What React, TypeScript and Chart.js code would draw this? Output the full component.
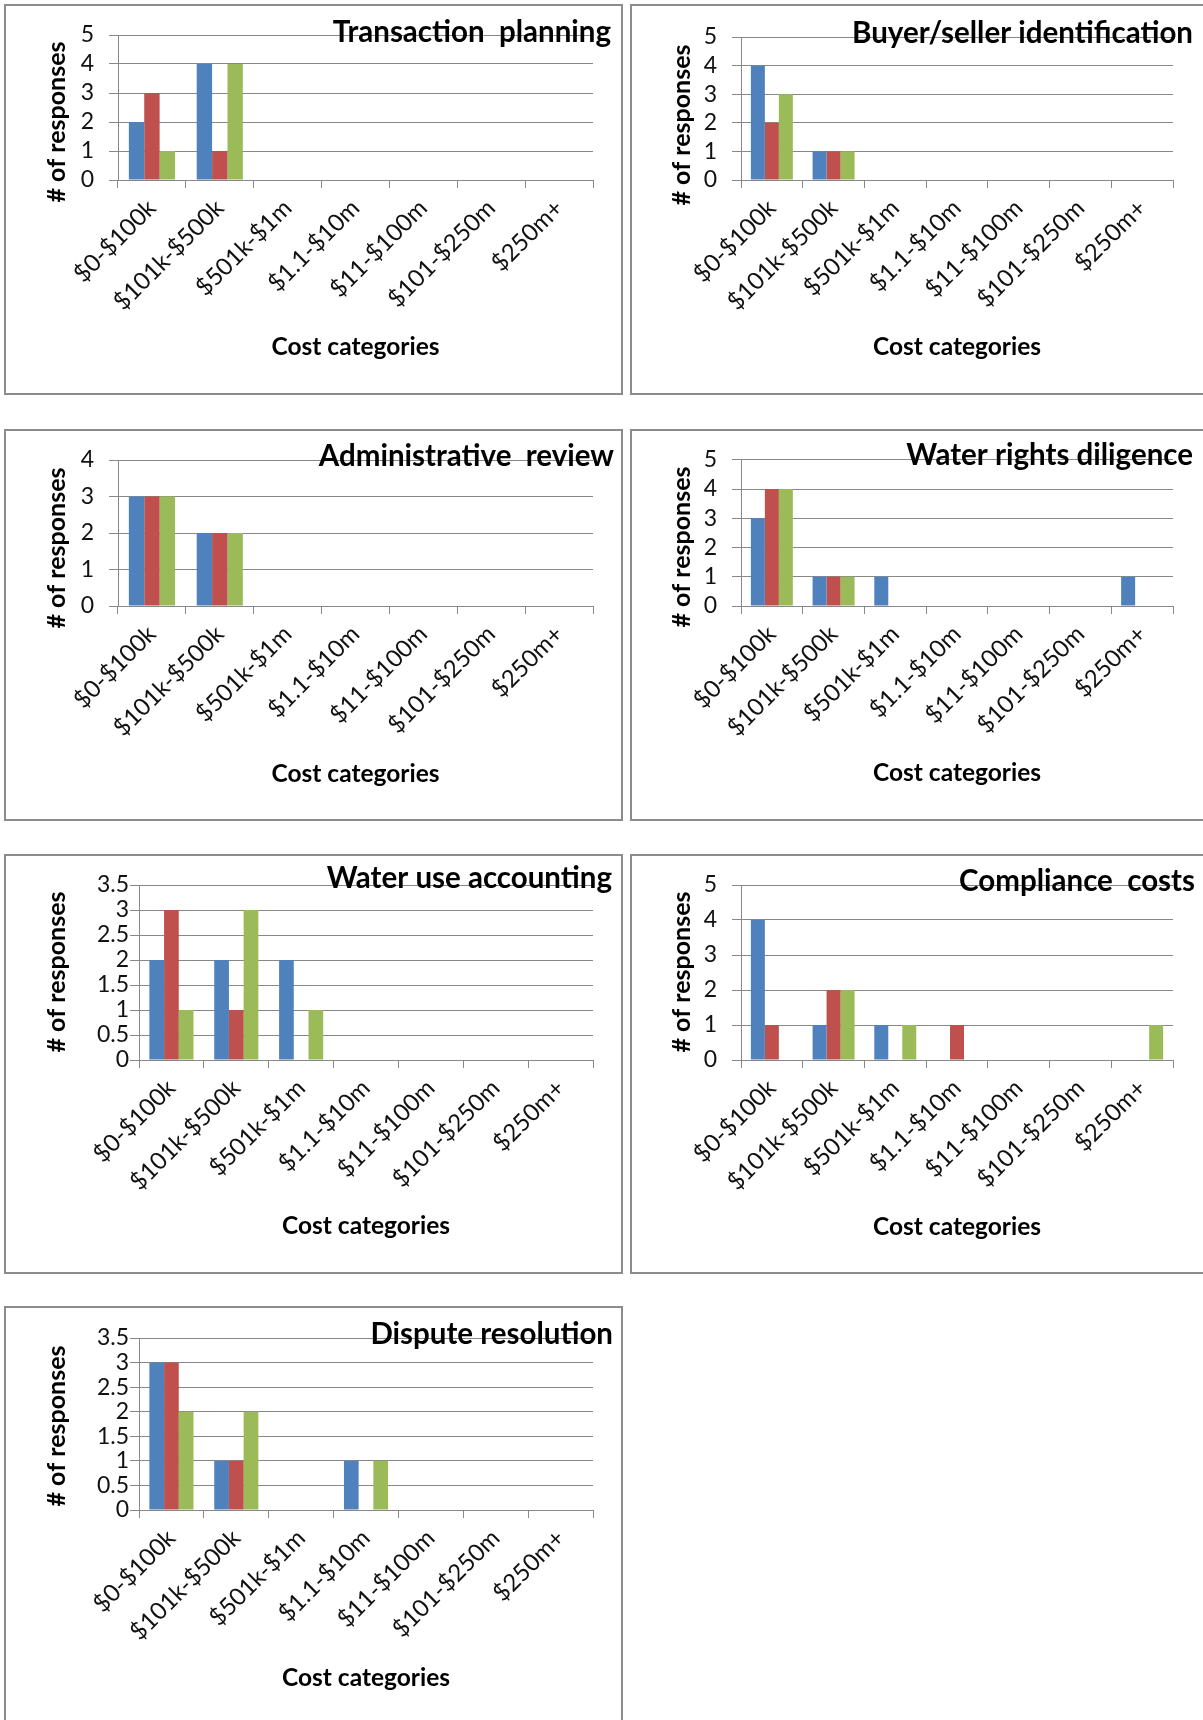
import React, { useEffect, useRef } from "react";
import { Chart, registerables } from "chart.js";

Chart.register(...registerables);

// ---------- data ----------
const categories = ["$0-$100k", "$101k-$500k", "$501k-$1m", "$1.1-$10m", "$11-$100m", "$101-$250m", "$250m+"];
const seriesNames = ["Series 1", "Series 2", "Series 3"];

const transactionBlue = [2, 4, 0, 0, 0, 0, 0];
const transactionRed = [3, 1, 0, 0, 0, 0, 0];
const transactionGreen = [1, 4, 0, 0, 0, 0, 0];

const buyerBlue = [4, 1, 0, 0, 0, 0, 0];
const buyerRed = [2, 1, 0, 0, 0, 0, 0];
const buyerGreen = [3, 1, 0, 0, 0, 0, 0];

const adminBlue = [3, 2, 0, 0, 0, 0, 0];
const adminRed = [3, 2, 0, 0, 0, 0, 0];
const adminGreen = [3, 2, 0, 0, 0, 0, 0];

const diligenceBlue = [3, 1, 1, 0, 0, 0, 1];
const diligenceRed = [4, 1, 0, 0, 0, 0, 0];
const diligenceGreen = [4, 1, 0, 0, 0, 0, 0];

const accountingBlue = [2, 2, 2, 0, 0, 0, 0];
const accountingRed = [3, 1, 0, 0, 0, 0, 0];
const accountingGreen = [1, 3, 1, 0, 0, 0, 0];

const complianceBlue = [4, 1, 1, 0, 0, 0, 0];
const complianceRed = [1, 2, 0, 1, 0, 0, 0];
const complianceGreen = [0, 2, 1, 0, 0, 0, 1];

const disputeBlue = [3, 1, 0, 1, 0, 0, 0];
const disputeRed = [3, 1, 0, 0, 0, 0, 0];
const disputeGreen = [2, 2, 0, 1, 0, 0, 0];

const yAxisTitle = "# of responses";
const xAxisTitle = "Cost categories";

// ---------- styles ----------
const COLORS = ["#4F81BD", "#C0504D", "#9BBB59"];
const GRID = "#888888";
const TEXT = "#111111";
const FONT = "Lato";

type PanelCfg = {
  title: string;
  series: number[][];
  yMax: number;
  yStep: number;
  L: number; T: number; W: number; H: number;
  border: { left: number; top: number; width: number; height: number; right: boolean; bottom: boolean };
  axisX: number; topY: number; zeroY: number; rightX: number;
  titleRight: number; titleBase: number;
  yTitleX: number; yTitleY: number;
  xTitleY: number;
  yTickPad: number;
};

const panels: PanelCfg[] = [
  {
    title: "Transaction  planning", series: [transactionBlue, transactionRed, transactionGreen], yMax: 5, yStep: 1,
    L: 6, T: 6, W: 615, H: 387, border: { left: 4, top: 4, width: 619, height: 391, right: true, bottom: true },
    axisX: 118, topY: 35, zeroY: 180, rightX: 593, titleRight: 611, titleBase: 42, yTitleX: 57, yTitleY: 122, xTitleY: 347, yTickPad: 15,
  },
  {
    title: "Buyer/seller identification", series: [buyerBlue, buyerRed, buyerGreen], yMax: 5, yStep: 1,
    L: 633, T: 6, W: 570, H: 387, border: { left: 630, top: 4, width: 600, height: 391, right: false, bottom: true },
    axisX: 741, topY: 37, zeroY: 180, rightX: 1173, titleRight: 1193, titleBase: 43, yTitleX: 682, yTitleY: 125, xTitleY: 347, yTickPad: 15,
  },
  {
    title: "Administrative  review", series: [adminBlue, adminRed, adminGreen], yMax: 4, yStep: 1,
    L: 6, T: 431, W: 615, H: 388, border: { left: 4, top: 429, width: 619, height: 392, right: true, bottom: true },
    axisX: 118, topY: 460, zeroY: 606, rightX: 593, titleRight: 614, titleBase: 466, yTitleX: 57, yTitleY: 548, xTitleY: 774, yTickPad: 15,
  },
  {
    title: "Water rights diligence", series: [diligenceBlue, diligenceRed, diligenceGreen], yMax: 5, yStep: 1,
    L: 633, T: 431, W: 570, H: 388, border: { left: 630, top: 429, width: 600, height: 392, right: false, bottom: true },
    axisX: 741, topY: 459, zeroY: 606, rightX: 1173, titleRight: 1193, titleBase: 465, yTitleX: 682, yTitleY: 547, xTitleY: 773, yTickPad: 15,
  },
  {
    title: "Water use accounting", series: [accountingBlue, accountingRed, accountingGreen], yMax: 3.5, yStep: 0.5,
    L: 6, T: 856, W: 615, H: 416, border: { left: 4, top: 854, width: 619, height: 420, right: true, bottom: true },
    axisX: 139, topY: 885, zeroY: 1060, rightX: 593, titleRight: 612, titleBase: 888, yTitleX: 57, yTitleY: 972, xTitleY: 1226, yTickPad: 1,
  },
  {
    title: "Compliance  costs", series: [complianceBlue, complianceRed, complianceGreen], yMax: 5, yStep: 1,
    L: 633, T: 856, W: 570, H: 416, border: { left: 630, top: 854, width: 600, height: 420, right: false, bottom: true },
    axisX: 741, topY: 885, zeroY: 1060, rightX: 1173, titleRight: 1195, titleBase: 891, yTitleX: 682, yTitleY: 972, xTitleY: 1227, yTickPad: 15,
  },
  {
    title: "Dispute resolution", series: [disputeBlue, disputeRed, disputeGreen], yMax: 3.5, yStep: 0.5,
    L: 6, T: 1308, W: 615, H: 412, border: { left: 4, top: 1306, width: 619, height: 440, right: true, bottom: false },
    axisX: 139, topY: 1338, zeroY: 1510, rightX: 593, titleRight: 613, titleBase: 1344, yTitleX: 57, yTitleY: 1426, xTitleY: 1678, yTickPad: 1,
  },
];

const TITLE_SIZE = 29.5;
const YTITLE_SIZE = 25;
const XTITLE_SIZE = 24.5;
const YTICK_SIZE = 23;
const XTICK_SIZE = 24;

const panelText = {
  id: "panelText",
  afterDraw(chart: any, _args: any, opts: any) {
    const ctx = chart.ctx;
    ctx.save();
    ctx.fillStyle = "#000";
    ctx.font = `bold ${TITLE_SIZE}px ${FONT}`;
    ctx.textAlign = "right";
    ctx.textBaseline = "alphabetic";
    ctx.fillText(opts.title, opts.titleX, opts.titleY);
    ctx.translate(opts.yTitleX, opts.yTitleY);
    ctx.rotate(-Math.PI / 2);
    ctx.font = `bold ${YTITLE_SIZE}px ${FONT}`;
    ctx.textAlign = "center";
    ctx.textBaseline = "middle";
    ctx.fillText(opts.yTitle, 0, 0);
    ctx.restore();
  },
};

function Panel({ cfg }: { cfg: PanelCfg }) {
  const ref = useRef<HTMLCanvasElement | null>(null);
  useEffect(() => {
    if (!ref.current) return;
    const xTitleLH = XTITLE_SIZE * 1.2;
    const xTitlePadBottom = cfg.T + cfg.H - cfg.xTitleY - xTitleLH / 2;
    const chart = new Chart(ref.current, {
      type: "bar",
      data: {
        labels: categories,
        datasets: cfg.series.map((d, i) => ({
          label: seriesNames[i],
          data: d,
          backgroundColor: COLORS[i],
          borderWidth: 0,
          categoryPercentage: 0.68,
          barPercentage: 1.0,
        })),
      },
      options: {
        animation: false,
        responsive: false,
        maintainAspectRatio: false,
        devicePixelRatio: 1,
        layout: {
          padding: { left: 0, top: cfg.topY - cfg.T, right: cfg.L + cfg.W - cfg.rightX, bottom: 0 },
        },
        plugins: {
          legend: { display: false },
          tooltip: { enabled: false },
          title: { display: false },
          panelText: {
            title: cfg.title,
            titleX: cfg.titleRight - cfg.L,
            titleY: cfg.titleBase - cfg.T,
            yTitle: yAxisTitle,
            yTitleX: cfg.yTitleX - cfg.L,
            yTitleY: cfg.yTitleY - cfg.T,
          },
        } as any,
        scales: {
          x: {
            type: "category",
            offset: true,
            grid: { offset: true, drawOnChartArea: false, drawTicks: true, tickLength: 8, color: GRID, lineWidth: 1 },
            border: { display: true, color: GRID, width: 1 },
            ticks: {
              autoSkip: false,
              minRotation: 45,
              maxRotation: 45,
              padding: 6,
              color: TEXT,
              font: { family: FONT, size: XTICK_SIZE },
            },
            title: {
              display: true,
              text: xAxisTitle,
              color: "#000",
              font: { family: FONT, size: XTITLE_SIZE, weight: "bold" },
              padding: { top: 0, bottom: xTitlePadBottom },
            },
            afterFit: (s: any) => {
              s.height = cfg.T + cfg.H - cfg.zeroY;
            },
          },
          y: {
            min: 0,
            max: cfg.yMax,
            grid: { drawTicks: true, tickLength: 9, color: GRID, lineWidth: 1 },
            border: { display: true, color: GRID, width: 1 },
            ticks: {
              stepSize: cfg.yStep,
              autoSkip: false,
              padding: cfg.yTickPad,
              color: TEXT,
              font: { family: FONT, size: YTICK_SIZE },
              callback: (v: any) => String(Number(v)),
            },
            afterFit: (s: any) => {
              s.width = cfg.axisX - cfg.L;
            },
          },
        },
      } as any,
      plugins: [panelText as any],
    });
    return () => chart.destroy();
  }, [cfg]);

  const b = cfg.border;
  return (
    <>
      <div
        style={{
          position: "absolute",
          left: b.left,
          top: b.top,
          width: b.width,
          height: b.height,
          boxSizing: "border-box",
          borderTop: "2px solid #8c8c8c",
          borderLeft: "2px solid #8c8c8c",
          borderRight: b.right ? "2px solid #8c8c8c" : "none",
          borderBottom: b.bottom ? "2px solid #8c8c8c" : "none",
        }}
      />
      <canvas
        ref={ref}
        width={cfg.W}
        height={cfg.H}
        style={{ position: "absolute", left: cfg.L, top: cfg.T, width: cfg.W, height: cfg.H }}
      />
    </>
  );
}

export default function App() {
  return (
    <div
      style={{
        position: "absolute",
        left: 0,
        top: 0,
        width: 1203,
        height: 1720,
        overflow: "hidden",
        background: "#fff",
        fontFamily: FONT,
      }}
    >
      {panels.map((p, i) => (
        <Panel key={i} cfg={p} />
      ))}
    </div>
  );
}
